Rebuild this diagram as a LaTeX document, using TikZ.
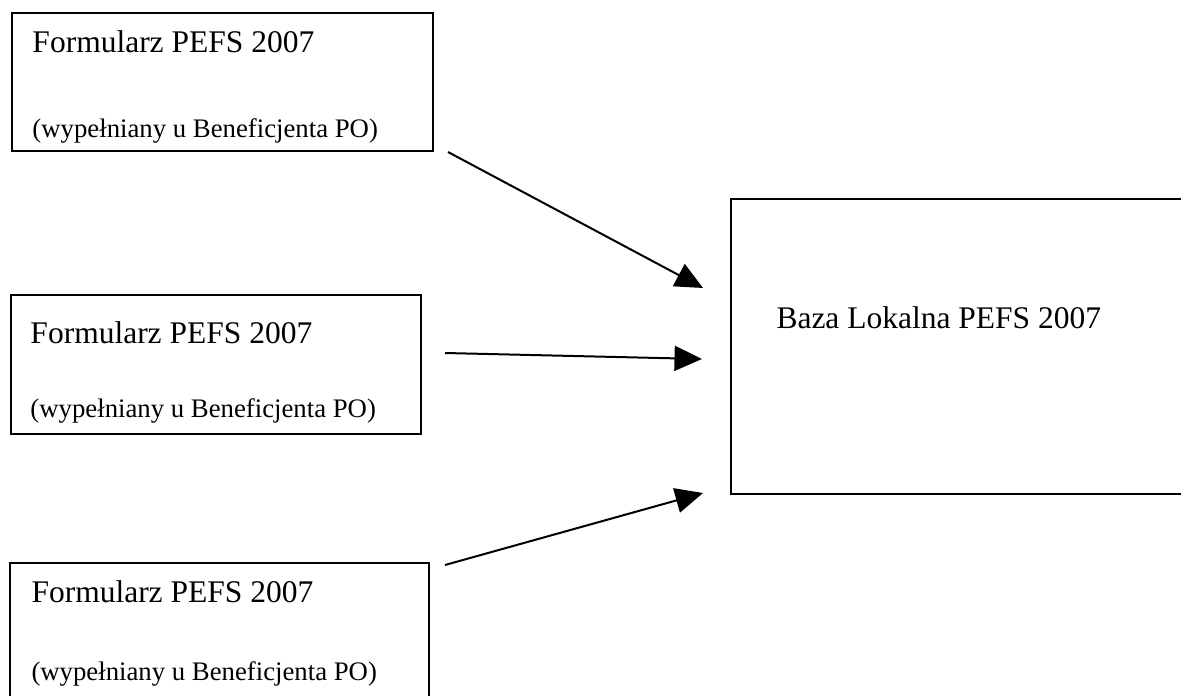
\documentclass[tikz,border=0pt]{standalone}
\usepackage{fontspec}
\setmainfont{Liberation Serif}
\usetikzlibrary{arrows.meta}

\tikzset{
  formbox/.style={draw, line width=0.8pt, anchor=north west, inner sep=0pt},
  title/.style={anchor=base west, inner sep=0pt, font=\fontsize{12.6}{15}\selectfont},
  subtitle/.style={anchor=base west, inner sep=0pt, font=\fontsize{10.7}{13}\selectfont},
  feed/.style={line width=0.8pt, -{Triangle[length=11pt, width=10pt]}}
}

\begin{document}
\begin{tikzpicture}[x=0.4pt, y=0.4pt]
      \useasboundingbox (0, 0) rectangle (1181, 695);
      \clip (0, 0) rectangle (1181, 695);

      % forms
      \node[formbox, minimum width=168.4pt, minimum height=55.2pt] (form1) at (11, 683) {};
      \node[formbox, minimum width=164pt, minimum height=55.6pt] (form2) at (10, 401) {};
      \node[formbox, minimum width=167.6pt, minimum height=55.6pt] (form3) at (9, 133) {};

      \node[title] (form1title) at (32, 642) {Formularz PEFS 2007};
      \node[subtitle] (form1sub) at (32, 557) {(wypełniany u Beneficjenta PO)};
      \node[title] (form2title) at (30, 352) {Formularz PEFS 2007};
      \node[subtitle] (form2sub) at (30, 278) {(wypełniany u Beneficjenta PO)};
      \node[title] (form3title) at (31, 93) {Formularz PEFS 2007};
      \node[subtitle] (form3sub) at (31, 15) {(wypełniany u Beneficjenta PO)};

      % local base
      \node[formbox, minimum width=188pt, minimum height=118pt] (base) at (730, 497) {};
      \node[title] (basetitle) at (776, 367) {Baza Lokalna PEFS 2007};

      % arrows
      \coordinate (out1) at (448, 543);
      \coordinate (out2) at (445, 342);
      \coordinate (out3) at (445, 130);
      \coordinate (in1) at (703, 407);
      \coordinate (in2) at (702, 336);
      \coordinate (in3) at (703, 202);

      \draw[feed] (out1) -- (in1);
      \draw[feed] (out2) -- (in2);
      \draw[feed] (out3) -- (in3);
  \end{tikzpicture}
\end{document}
